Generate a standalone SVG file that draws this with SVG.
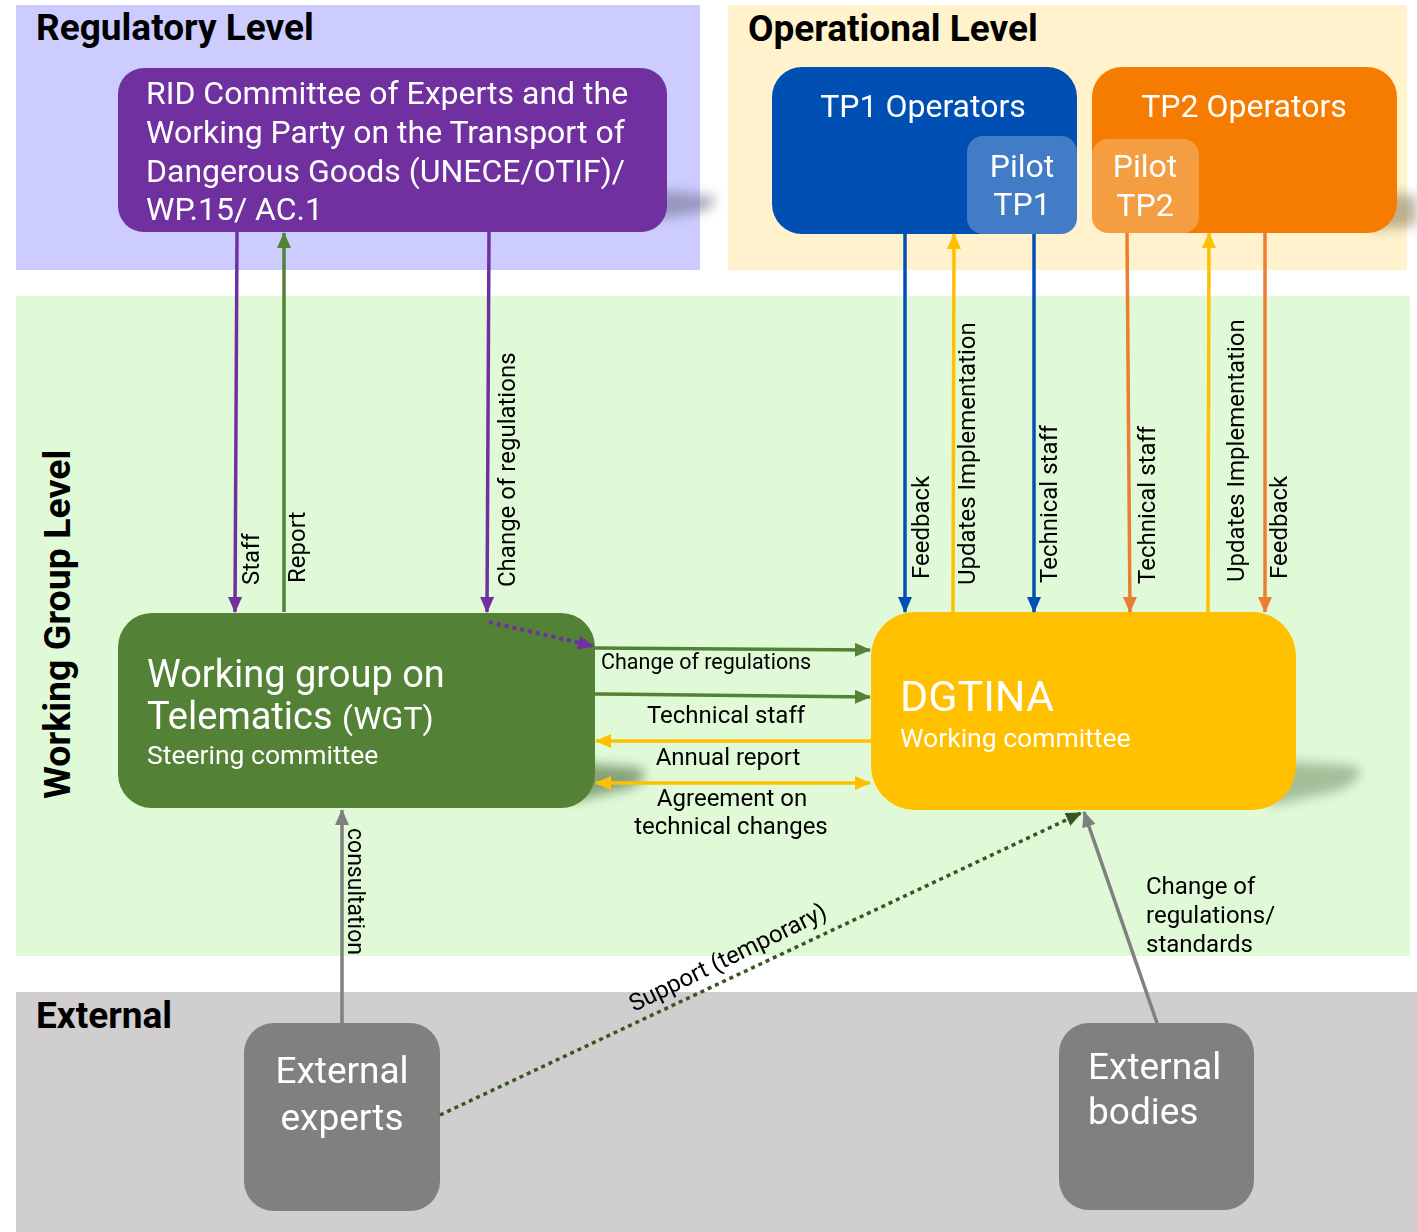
<svg xmlns="http://www.w3.org/2000/svg" width="1417" height="1232" viewBox="0 0 1417 1232">
<defs>
<style>
.r{font-family:Roboto,"Liberation Sans",sans-serif}
.title{font-family:Roboto,"Liberation Sans",sans-serif;font-weight:bold;font-size:37px;fill:#000}
.w{fill:#fff}
.lbl{font-family:Roboto,"Liberation Sans",sans-serif;font-size:24px;fill:#000}
.hl{font-family:Roboto,"Liberation Sans",sans-serif;font-size:24px;fill:#000}
.ln{fill:none;stroke-width:3.5}
.sh{filter:url(#blur)}
</style>
<filter id="blur" x="-50%" y="-50%" width="200%" height="200%"><feGaussianBlur stdDeviation="6"/></filter>
<marker id="aP" markerUnits="userSpaceOnUse" markerWidth="16" markerHeight="14" refX="15" refY="7" orient="auto"><path d="M0,0 L16,7 L0,14 z" fill="#7030a0"/></marker>
<marker id="aG" markerUnits="userSpaceOnUse" markerWidth="16" markerHeight="14" refX="15" refY="7" orient="auto"><path d="M0,0 L16,7 L0,14 z" fill="#538135"/></marker>
<marker id="aB" markerUnits="userSpaceOnUse" markerWidth="16" markerHeight="14" refX="15" refY="7" orient="auto"><path d="M0,0 L16,7 L0,14 z" fill="#0050b4"/></marker>
<marker id="aY" markerUnits="userSpaceOnUse" markerWidth="16" markerHeight="14" refX="15" refY="7" orient="auto-start-reverse"><path d="M0,0 L16,7 L0,14 z" fill="#ffc000"/></marker>
<marker id="aO" markerUnits="userSpaceOnUse" markerWidth="16" markerHeight="14" refX="15" refY="7" orient="auto"><path d="M0,0 L16,7 L0,14 z" fill="#ed7d31"/></marker>
<marker id="aK" markerUnits="userSpaceOnUse" markerWidth="16" markerHeight="14" refX="15" refY="7" orient="auto"><path d="M0,0 L16,7 L0,14 z" fill="#808080"/></marker>
<marker id="aD" markerUnits="userSpaceOnUse" markerWidth="16" markerHeight="14" refX="15" refY="7" orient="auto"><path d="M0,0 L16,7 L0,14 z" fill="#375623"/></marker>
</defs>

<g id="levels">
<rect x="16" y="5" width="684" height="265" fill="#ccccff"/>
<rect x="728" y="5" width="679" height="265" fill="#fff2cc"/>
<rect x="16" y="296" width="1394" height="660" fill="#e0fad8"/>
<rect x="16" y="992" width="1401" height="240" fill="#d0cece"/>
<text class="title" x="36" y="40">Regulatory Level</text>
<text class="title" x="748" y="41">Operational Level</text>
<text class="title" x="36" y="1028">External</text>
<text class="title" style="font-size:37.5px" transform="translate(70,799) rotate(-90)">Working Group Level</text>
</g>

<g id="shadows" opacity="0.55">
<path class="sh" d="M640,188 L712,196 Q722,204 700,212 L640,222 Z" fill="#6b6b8a"/>
<path class="sh" d="M1370,190 L1417,196 L1417,226 L1370,230 Z" fill="#8a7a5a"/>
<path class="sh" d="M570,762 L640,768 Q652,778 630,788 L570,802 Z" fill="#3a5a2a"/>
<path class="sh" d="M1270,760 L1355,766 Q1370,775 1340,790 L1270,806 Z" fill="#6f8f68"/>
</g>

<g id="rid">
<rect x="118" y="68" width="549" height="164" rx="26" fill="#7030a0"/>
<text class="r w" font-size="32"><tspan x="146" y="104">RID Committee of Experts and the</tspan><tspan x="146" y="143">Working Party on the Transport of</tspan><tspan x="146" y="182">Dangerous Goods (UNECE/OTIF)/</tspan><tspan x="146" y="220">WP.15/ AC.1</tspan></text>
</g>

<g id="tp1">
<rect x="772" y="67" width="305" height="167" rx="30" fill="#0050b4"/>
<text class="r w" font-size="32" x="923" y="117" text-anchor="middle">TP1 Operators</text>
</g>
<g id="pilot-tp1">
<rect x="967" y="136" width="110" height="98" rx="16" fill="#427cc6"/>
<text class="r w" font-size="32" text-anchor="middle"><tspan x="1022" y="177">Pilot</tspan><tspan x="1022" y="215">TP1</tspan></text>
</g>

<g id="tp2">
<rect x="1092" y="67" width="305" height="166" rx="30" fill="#f57c00"/>
<text class="r w" font-size="32" x="1244" y="117" text-anchor="middle">TP2 Operators</text>
</g>
<g id="pilot-tp2">
<rect x="1092" y="139" width="107" height="94" rx="16" fill="#f59d41"/>
<text class="r w" font-size="32" text-anchor="middle"><tspan x="1145" y="177">Pilot</tspan><tspan x="1145" y="216">TP2</tspan></text>
</g>

<g id="wgt">
<rect x="118" y="613" width="477" height="195" rx="34" fill="#538135"/>
<text class="r w" font-size="38" x="147" y="687">Working group on</text>
<text class="r w" font-size="38" x="147" y="729">Telematics <tspan font-size="32">(WGT)</tspan></text>
<text class="r w" font-size="26.5" x="147" y="764">Steering committee</text>
</g>

<g id="dgtina">
<rect x="871" y="612" width="425" height="198" rx="44" fill="#ffc000"/>
<text class="r w" font-size="43" x="900" y="711">DGTINA</text>
<text class="r w" font-size="26.5" x="900" y="747">Working committee</text>
</g>

<g id="ext-experts">
<rect x="244" y="1023" width="196" height="188" rx="30" fill="#808080"/>
<text class="r w" font-size="37" text-anchor="middle"><tspan x="342" y="1083">External</tspan><tspan x="342" y="1130">experts</tspan></text>
</g>

<g id="ext-bodies">
<rect x="1059" y="1023" width="195" height="187" rx="30" fill="#808080"/>
<text class="r w" font-size="37"><tspan x="1088" y="1079">External</tspan><tspan x="1088" y="1124">bodies</tspan></text>
</g>

<g id="connectors">
<line class="ln" x1="237" y1="232" x2="235" y2="612" stroke="#7030a0" marker-end="url(#aP)"/>
<line class="ln" x1="284" y1="612" x2="284" y2="233" stroke="#538135" marker-end="url(#aG)"/>
<line class="ln" x1="489" y1="232" x2="487" y2="612" stroke="#7030a0" marker-end="url(#aP)"/>
<line x1="489" y1="622" x2="593" y2="646" stroke="#7030a0" stroke-width="4" stroke-dasharray="4 4" marker-end="url(#aP)"/>
<line class="ln" x1="595" y1="648" x2="870" y2="650" stroke="#538135" marker-end="url(#aG)"/>
<line class="ln" x1="595" y1="694" x2="870" y2="697" stroke="#538135" marker-end="url(#aG)"/>
<line class="ln" x1="871" y1="741" x2="596" y2="741" stroke="#ffc000" marker-end="url(#aY)"/>
<line class="ln" x1="596" y1="783" x2="870" y2="783" stroke="#ffc000" marker-start="url(#aY)" marker-end="url(#aY)"/>
<line class="ln" x1="905" y1="234" x2="905" y2="612" stroke="#0050b4" marker-end="url(#aB)"/>
<line class="ln" x1="953" y1="612" x2="954" y2="234" stroke="#ffc000" marker-end="url(#aY)"/>
<line class="ln" x1="1034" y1="234" x2="1034" y2="612" stroke="#0050b4" marker-end="url(#aB)"/>
<line class="ln" x1="1127" y1="233" x2="1130" y2="612" stroke="#ed7d31" marker-end="url(#aO)"/>
<line class="ln" x1="1208" y1="612" x2="1209" y2="233" stroke="#ffc000" marker-end="url(#aY)"/>
<line class="ln" x1="1265" y1="233" x2="1265" y2="612" stroke="#ed7d31" marker-end="url(#aO)"/>
<line class="ln" x1="342" y1="1023" x2="342" y2="810" stroke="#808080" marker-end="url(#aK)"/>
<line class="ln" x1="1157" y1="1023" x2="1084" y2="812" stroke="#808080" marker-end="url(#aK)"/>
<line x1="440" y1="1115" x2="1081" y2="813" stroke="#375623" stroke-width="3.5" stroke-dasharray="4 4" marker-end="url(#aD)"/>
</g>

<g id="labels">
<text class="lbl" transform="translate(259,585) rotate(-90)">Staff</text>
<text class="lbl" transform="translate(305,583) rotate(-90)">Report</text>
<text class="lbl" transform="translate(515,587) rotate(-90)">Change of regulations</text>
<text class="lbl" transform="translate(929,579) rotate(-90)">Feedback</text>
<text class="lbl" transform="translate(975,585) rotate(-90)">Updates Implementation</text>
<text class="lbl" transform="translate(1057,583) rotate(-90)">Technical staff</text>
<text class="lbl" transform="translate(1155,584) rotate(-90)">Technical staff</text>
<text class="lbl" transform="translate(1244,582) rotate(-90)">Updates Implementation</text>
<text class="lbl" transform="translate(1287,579) rotate(-90)">Feedback</text>
<text class="lbl" style="font-size:23px" transform="translate(348,828) rotate(90)">consultation</text>
<text class="lbl" transform="translate(634,1012) rotate(-26)">Support (temporary)</text>
<text class="hl" style="font-size:21.5px" x="601" y="669">Change of regulations</text>
<text class="hl" x="726" y="723" text-anchor="middle">Technical staff</text>
<text class="hl" x="728" y="765" text-anchor="middle">Annual report</text>
<text class="hl" text-anchor="middle"><tspan x="732" y="806">Agreement on</tspan><tspan x="731" y="834">technical changes</tspan></text>
<text class="hl"><tspan x="1146" y="894">Change of</tspan><tspan x="1146" y="923">regulations/</tspan><tspan x="1146" y="952">standards</tspan></text>
</g>
</svg>
